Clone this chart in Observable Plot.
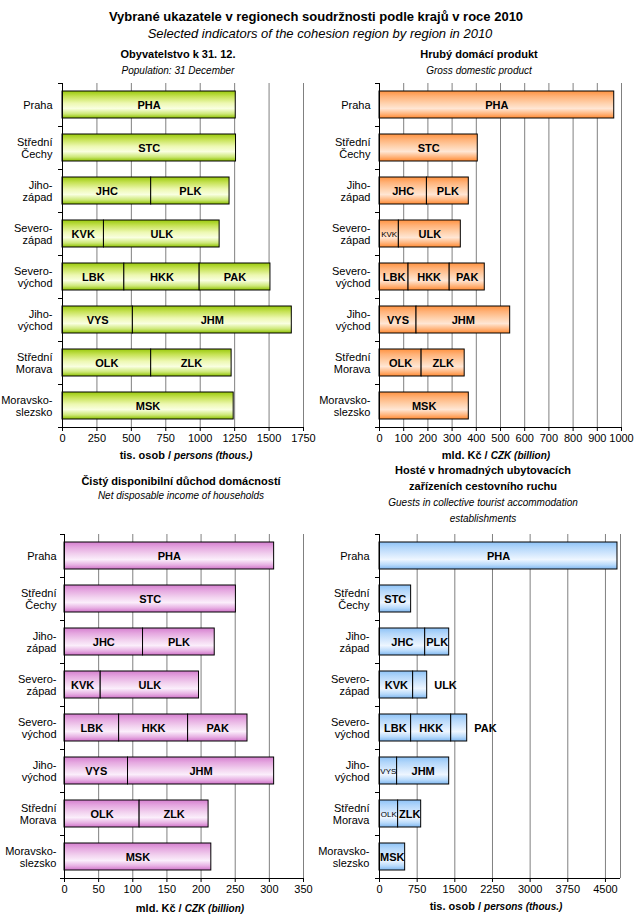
<!DOCTYPE html>
<html>
<head>
<meta charset="utf-8">
<script src="https://cdn.jsdelivr.net/npm/d3@7"></script>
<script src="https://cdn.jsdelivr.net/npm/@observablehq/plot@0.6"></script>
<style>
  html, body { margin: 0; padding: 0; background: #fff; }
  #page { position: relative; width: 644px; height: 922px; background: #fff; font-family: "Liberation Sans", Arial, sans-serif; }
  .panel { position: absolute; }
  #overlay { position: absolute; left: 0; top: 0; pointer-events: none; }
</style>
</head>
<body>
<div id="page"></div>
<script>
// ---------- data ----------
const regions = ["Praha", "Střední\nČechy", "Jiho-\nzápad", "Severo-\nzápad", "Severo-\nvýchod", "Jiho-\nvýchod", "Střední\nMorava", "Moravsko-\nslezsko"];
const codes = ["PHA", "STC", "JHC", "PLK", "KVK", "ULK", "LBK", "HKK", "PAK", "VYS", "JHM", "OLK", "ZLK", "MSK"];
const codeRegion = [0, 1, 2, 2, 3, 3, 4, 4, 4, 5, 5, 6, 6, 7];

const population = [1258, 1260, 644, 569, 301, 840, 449, 547, 514, 511, 1154, 644, 584, 1243]; // tis. osob
const gdp = [970, 406, 196, 173, 80, 256, 120, 170, 145, 153, 387, 174, 178, 369];             // mld. Kč
const income = [307, 251, 115, 105, 53, 144, 80, 101, 87, 93, 214, 110, 101, 215];            // mld. Kč
const guests = [4740, 630, 910, 478, 670, 280, 630, 798, 319, 351, 1037, 371, 459, 511];       // tis. osob

const popTicks = [0, 250, 500, 750, 1000, 1250, 1500, 1750];
const gdpTicks = [0, 100, 200, 300, 400, 500, 600, 700, 800, 900, 1000];
const incomeTicks = [0, 50, 100, 150, 200, 250, 300, 350];
const guestTicks = [0, 750, 1500, 2250, 3000, 3750, 4500];

const FONT = "Liberation Sans, Arial, sans-serif";

const gradients = {
  gGreen:  ["#99c90c", "#c6e254", "#edf8b2", "#f9ffe0", "#cde877", "#8cc000"],
  gOrange: ["#ff9240", "#ffb278", "#ffd1ac", "#ffe6d4", "#ffb47c", "#ff8a33"],
  gPink:   ["#d57fcf", "#e5a8e0", "#f2d2ef", "#fbeefb", "#e7b0e3", "#cf72c8"],
  gBlue:   ["#8ec3f7", "#b2d6fa", "#d4e8fd", "#eef6ff", "#b8dafb", "#7fb6ee"]
};

function defsMark(id) {
  return () => {
    const defs = d3.create("svg:defs");
    const lg = defs.append("linearGradient").attr("id", id)
      .attr("x1", 0).attr("y1", 0).attr("x2", 0).attr("y2", 1);
    const offs = [0, 0.2, 0.45, 0.65, 0.85, 1];
    gradients[id].forEach((c, i) => lg.append("stop").attr("offset", offs[i]).attr("stop-color", c));
    return defs.node();
  };
}

function frameMark(index, scales, values, dimensions) {
  const {width, height, marginLeft, marginRight, marginTop, marginBottom} = dimensions;
  const g = d3.create("svg:g").attr("stroke", "#000").attr("stroke-width", 1).attr("shape-rendering", "crispEdges");
  const y0 = marginTop, y1 = height - marginBottom, n = regions.length;
  const step = (y1 - y0) / n;
  for (let i = 0; i <= n; i++) {
    g.append("line").attr("x1", marginLeft - 4).attr("x2", marginLeft)
      .attr("y1", y0 + i * step).attr("y2", y0 + i * step);
  }
  g.append("line").attr("x1", marginLeft).attr("x2", marginLeft).attr("y1", y0).attr("y2", y1);
  g.append("line").attr("x1", marginLeft).attr("x2", width - marginRight).attr("y1", y1).attr("y2", y1);
  return g.node();
}

function makePanel(cfg) {
  const rows = codes.map((c, i) => ({code: c, region: regions[codeRegion[i]], value: cfg.values[i]}));
  const small = cfg.small || [];
  const outside = cfg.outside || [];
  const marks = [
    defsMark(cfg.grad),
    Plot.gridX(cfg.ticks, {stroke: "#808080", strokeOpacity: 1, strokeWidth: 1}),
  ];
  if (cfg.edgeLine) marks.push(Plot.ruleX([cfg.domain[1]], {stroke: "#808080", strokeWidth: 1}));
  marks.push(
    Plot.barX(rows, {x: "value", y: "region", fill: `url(#${cfg.grad})`, stroke: "#000", strokeWidth: 1}),
    Plot.text(rows, Plot.stackX({x: "value", y: "region",
      text: d => (small.includes(d.code) || outside.includes(d.code)) ? null : d.code,
      fontWeight: "bold", fontSize: 11, fill: "#000"})),
    Plot.text(rows, Plot.stackX({x: "value", y: "region",
      text: d => small.includes(d.code) ? d.code : null,
      fontSize: 8, fill: "#000"})),
    Plot.text(rows, Plot.stackX2({x: "value", y: "region",
      text: d => outside.includes(d.code) ? d.code : null,
      fontWeight: "bold", fontSize: 11, fill: "#000", textAnchor: "start", dx: 7})),
    Plot.axisX({ticks: cfg.ticks, tickSize: 4, tickPadding: 3, tickFormat: d => String(d), fontSize: 11, fontWeight: "normal", label: null, stroke: "#000"}),
    Plot.axisY({tickSize: 0, tickPadding: cfg.tickPadding, fontSize: 11, fontWeight: "normal", lineHeight: 1.12, label: null}),
    frameMark
  );
  const chart = Plot.plot({
    width: 320,
    height: 382,
    marginTop: 8,
    marginBottom: 30,
    marginLeft: cfg.marginLeft,
    marginRight: cfg.marginRight,
    style: {fontFamily: FONT, fontSize: "11px", fontWeight: "normal", background: "transparent", color: "#000", overflow: "visible"},
    x: {domain: cfg.domain, axis: null},
    y: {domain: regions, paddingInner: 0.38, paddingOuter: 0.19, axis: null},
    marks
  });
  chart.classList.add("panel");
  chart.style.left = cfg.left + "px";
  chart.style.top = cfg.top + "px";
  return chart;
}

const page = document.getElementById("page");
page.appendChild(makePanel({values: population, ticks: popTicks, domain: [0, 1750], grad: "gGreen",
  left: 0, top: 75, marginLeft: 62, marginRight: 17, tickPadding: 10}));
page.appendChild(makePanel({values: gdp, ticks: gdpTicks, domain: [0, 1000], grad: "gOrange",
  left: 320, top: 75, marginLeft: 59, marginRight: 19, tickPadding: 9, small: ["KVK"]}));
page.appendChild(makePanel({values: income, ticks: incomeTicks, domain: [0, 350], grad: "gPink",
  left: 0, top: 526, marginLeft: 64, marginRight: 17, tickPadding: 8}));
page.appendChild(makePanel({values: guests, ticks: guestTicks, domain: [0, 4800], grad: "gBlue",
  left: 320, top: 526, marginLeft: 59, marginRight: 20, tickPadding: 10, edgeLine: true,
  small: ["VYS", "OLK"], outside: ["ULK", "PAK"]}));

// ---------- texts ----------
const texts = [
  {x: 316, y: 20.5, s: 13, w: "bold", t: "Vybrané ukazatele v regionech soudržnosti podle krajů v roce 2010"},
  {x: 320, y: 38, s: 13, st: "italic", t: "Selected indicators of the cohesion region by region in 2010"},
  {x: 178, y: 57.5, s: 11, w: "bold", t: "Obyvatelstvo k 31. 12."},
  {x: 178, y: 74, s: 10, st: "italic", t: "Population: 31 December"},
  {x: 479, y: 57.5, s: 11, w: "bold", t: "Hrubý domácí produkt"},
  {x: 479, y: 74, s: 10, st: "italic", t: "Gross domestic product"},
  {x: 181, y: 485, s: 11, w: "bold", t: "Čistý disponibilní důchod domácností"},
  {x: 181, y: 499, s: 10, st: "italic", t: "Net disposable income of households"},
  {x: 483, y: 474, s: 11, w: "bold", t: "Hosté v hromadných ubytovacích"},
  {x: 483, y: 490, s: 11, w: "bold", t: "zařízeních cestovního ruchu"},
  {x: 483, y: 506, s: 10, st: "italic", t: "Guests in collective tourist accommodation"},
  {x: 483, y: 522, s: 10, st: "italic", t: "establishments"}
];
const axisTitles = [
  {x: 186, y: 459, a: "tis. osob / ", b: "persons (thous.)"},
  {x: 496, y: 459, a: "mld. Kč / ", b: "CZK (billion)"},
  {x: 190, y: 912, a: "mld. Kč / ", b: "CZK (billion)"},
  {x: 496, y: 910, a: "tis. osob / ", b: "persons (thous.)"}
];

const ov = d3.create("svg").attr("id", "overlay").attr("width", 644).attr("height", 922)
  .style("font-family", FONT).attr("fill", "#000");
texts.forEach(d => {
  ov.append("text").attr("x", d.x).attr("y", d.y).attr("text-anchor", "middle")
    .attr("font-size", d.s).attr("font-weight", d.w || "normal").attr("font-style", d.st || "normal")
    .text(d.t);
});
axisTitles.forEach(d => {
  const t = ov.append("text").attr("x", d.x).attr("y", d.y).attr("text-anchor", "middle").attr("font-weight", "bold");
  t.append("tspan").attr("font-size", 11).text(d.a);
  t.append("tspan").attr("font-size", 10).attr("font-style", "italic").text(d.b);
});
page.appendChild(ov.node());
</script>
</body>
</html>
